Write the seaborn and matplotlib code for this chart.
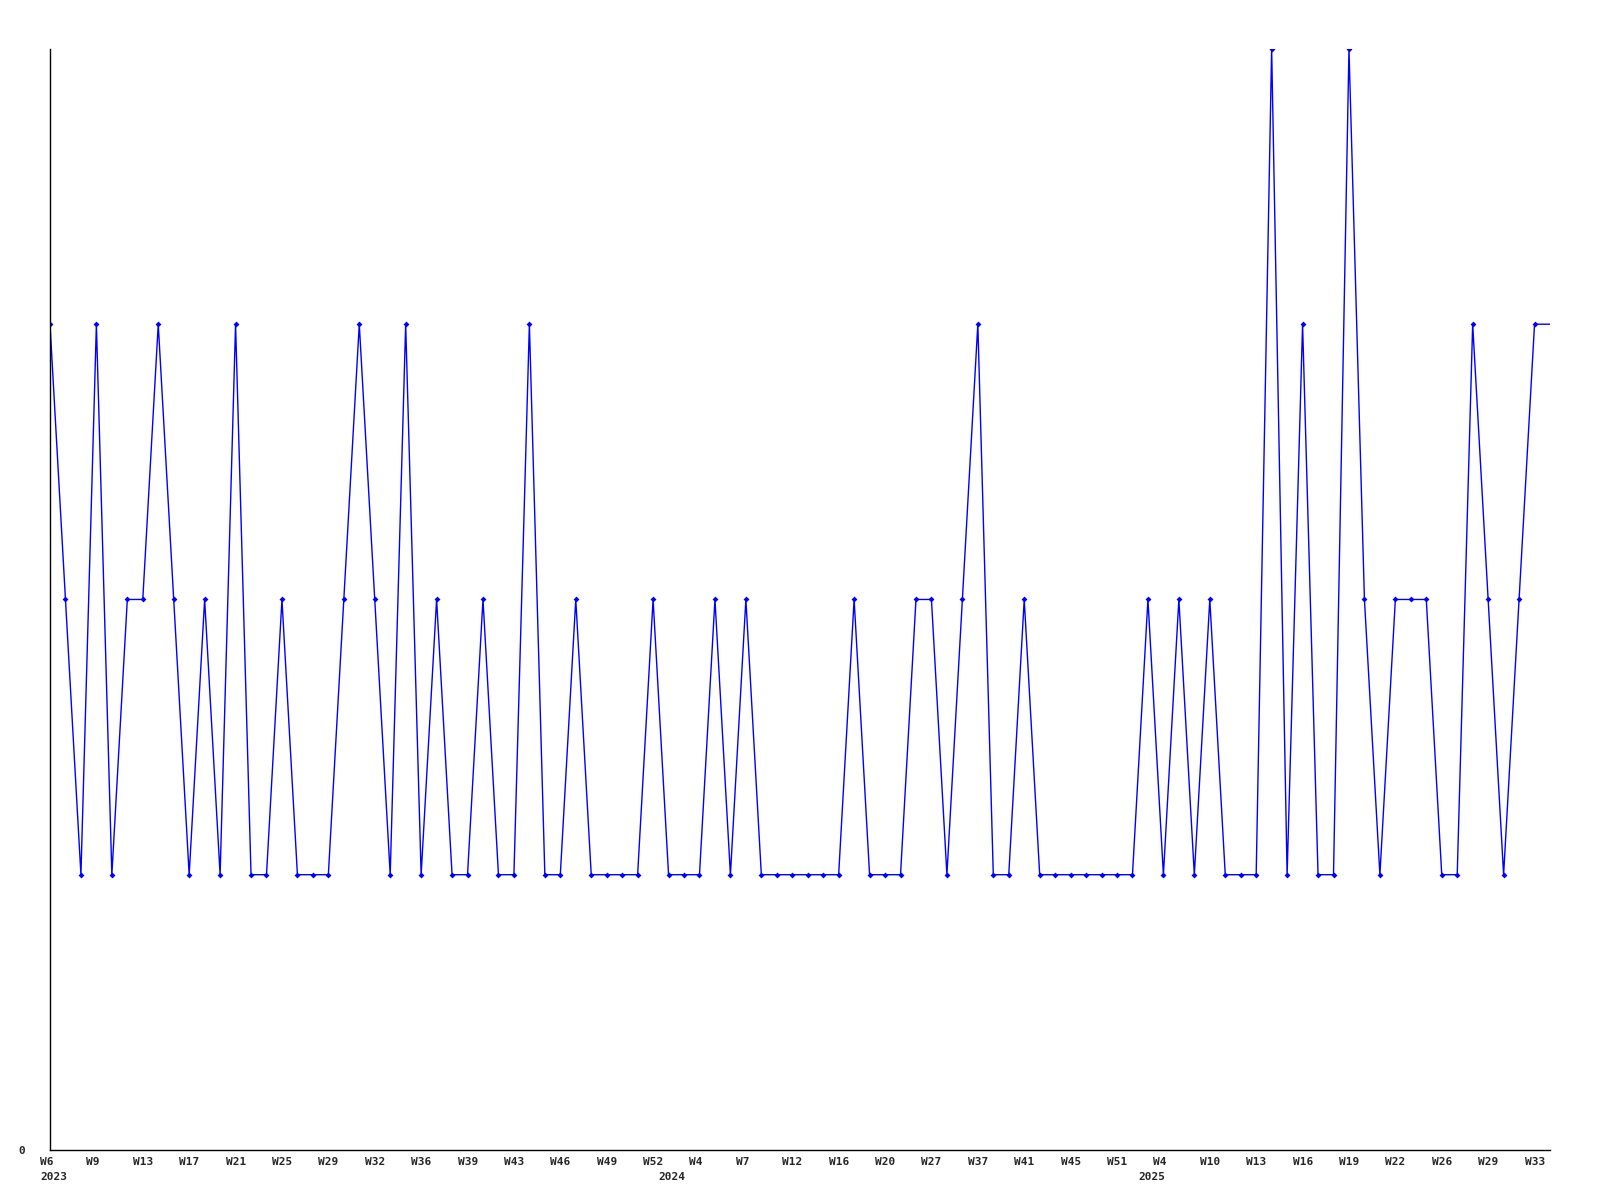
import matplotlib
matplotlib.use("Agg")
import numpy as np
import pandas as pd
import matplotlib.pyplot as plt
import matplotlib.transforms as mtransforms
import seaborn as sns

# weekly values, one per data point (evenly spaced, week gaps are skipped)
values = [3, 2, 1, 3, 1, 2, 2, 3, 2, 1, 2, 1, 3, 1, 1, 2, 1, 1, 1, 2,
          3, 2, 1, 3, 1, 2, 1, 1, 2, 1, 1, 3, 1, 1, 2, 1, 1, 1, 1, 2,
          1, 1, 1, 2, 1, 2, 1, 1, 1, 1, 1, 1, 2, 1, 1, 1, 2, 2, 1, 2,
          3, 1, 1, 2, 1, 1, 1, 1, 1, 1, 1, 2, 1, 2, 1, 2, 1, 1, 1, 4,
          1, 3, 1, 1, 4, 2, 1, 2, 2, 2, 1, 1, 3, 2, 1, 2, 3]

# labels shown on every third point
week_labels = ["W6", "W9", "W13", "W17", "W21", "W25", "W29", "W32", "W36",
               "W39", "W43", "W46", "W49", "W52", "W4", "W7", "W12", "W16",
               "W20", "W27", "W37", "W41", "W45", "W51", "W4", "W10", "W13",
               "W16", "W19", "W22", "W26", "W29", "W33"]
label_step = 3

# first point of each year
year_labels = ["2023", "2024", "2025"]
year_starts = [0, 40, 71]

sns.set_style("white")
plt.rcParams['font.family'] = ['DejaVu Sans Mono']

# line runs on one step past the last point at the same level
line_df = pd.DataFrame({"idx": np.arange(len(values) + 1),
                        "value": values + [values[-1]]})

fig = plt.figure(figsize=(16, 12), dpi=100)
ax = fig.add_axes([0.03125, 0.0417, 0.9375, 0.9175])

sns.lineplot(data=line_df, x="idx", y="value", ax=ax, color="#0000ff",
             linewidth=1.0, marker="D", markersize=3, markeredgewidth=0,
             markevery=list(range(len(values))))

ax.set_xlim(0, len(values))
ax.set_ylim(0, 4)

ax.set_yticks([0])
ax.set_yticklabels(["0"], fontsize=8, fontweight="bold")
ax.tick_params(axis="y", length=0, pad=18)

ax.xaxis.remove_overlapping_locs = False
ax.set_xticks(np.arange(len(week_labels)) * label_step)
ax.set_xticklabels(week_labels, fontsize=8, fontweight="bold")
ax.set_xticks(year_starts, minor=True)
ax.set_xticklabels(year_labels, minor=True, fontsize=8, fontweight="bold")
ax.tick_params(axis="x", which="major", length=0, pad=5)
ax.tick_params(axis="x", which="minor", length=0, pad=16)

# labels start a little left of their point
shift = mtransforms.ScaledTranslation(-0.10, 0, fig.dpi_scale_trans)
for lab in ax.get_xticklabels(which="both"):
    lab.set_horizontalalignment("left")
    lab.set_transform(lab.get_transform() + shift)

ax.set_xlabel("")
ax.set_ylabel("")
sns.despine(ax=ax)
for side in ["left", "bottom"]:
    ax.spines[side].set_color("black")
    ax.spines[side].set_linewidth(1.0)
ax.grid(False)

fig.savefig("out.png", dpi=100)
